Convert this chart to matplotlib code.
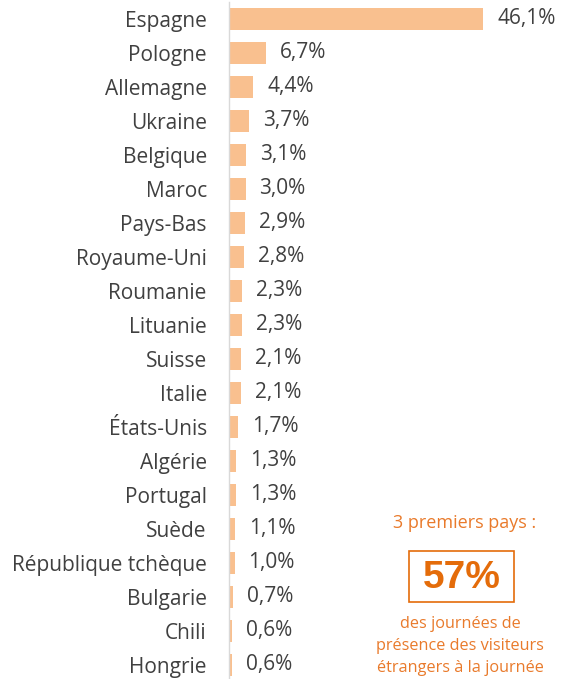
import matplotlib
matplotlib.use("Agg")
import matplotlib.pyplot as plt
from matplotlib.patches import Rectangle

countries = ["Espagne", "Pologne", "Allemagne", "Ukraine", "Belgique", "Maroc", "Pays-Bas",
             "Royaume-Uni", "Roumanie", "Lituanie", "Suisse", "Italie", "États-Unis", "Algérie",
             "Portugal", "Suède", "République tchèque", "Bulgarie", "Chili", "Hongrie"]
values = [46.1, 6.7, 4.4, 3.7, 3.1, 3.0, 2.9, 2.8, 2.3, 2.3, 2.1, 2.1, 1.7, 1.3, 1.3, 1.1, 1.0, 0.7, 0.6, 0.6]
value_labels = ["46,1%", "6,7%", "4,4%", "3,7%", "3,1%", "3,0%", "2,9%", "2,8%", "2,3%", "2,3%",
                "2,1%", "2,1%", "1,7%", "1,3%", "1,3%", "1,1%", "1,0%", "0,7%", "0,6%", "0,6%"]
top3_title = "3 premiers pays :"
top3_value = "57%"
top3_caption = "des journées de\nprésence des visiteurs\nétrangers à la journée"

plt.rcParams['font.family'] = ['Open Sans', 'DejaVu Sans']
W, H = 571, 679
fig = plt.figure(figsize=(W / 100, H / 100), dpi=100)
x0 = 229
ax = fig.add_axes([x0 / W, -3 / H, (W - x0) / W, 680 / H])
ypos = list(range(len(countries)))
ax.barh(ypos, values, height=0.65, color="#F9C08F", edgecolor="none")
ax.set_xlim(0, (W - x0) / 5.51)
ax.set_ylim(len(countries) - 0.5, -0.5)
for s in ["top", "right", "bottom"]:
    ax.spines[s].set_visible(False)
ax.spines["left"].set_color("#D9D9D9")
ax.spines["left"].set_linewidth(1.0)
ax.set_xticks([])
ax.set_yticks(ypos)
ax.set_yticklabels(countries, fontsize=15, color="#404040")
ax.tick_params(axis="y", length=0, pad=16)
for y, v, lab in zip(ypos, values, value_labels):
    ax.annotate(lab, (v, y), xytext=(14, 0), textcoords="offset pixels",
                ha="left", va="center", fontsize=15, color="#404040")

orange = "#E97A2B"
fig.text(465 / W, 1 - 523 / H, top3_title, ha="center", va="center", fontsize=13, color=orange)
fig.patches.append(Rectangle((409 / W, 1 - 602 / H), 105 / W, 51 / H, transform=fig.transFigure,
                             fill=False, edgecolor="#E46C0A", linewidth=1.2))
fig.text(462 / W, 1 - 578 / H, top3_value, ha="center", va="center", fontsize=28, fontweight="bold",
         color="#E46C0A", family=["Liberation Sans", "DejaVu Sans"])
fig.text(460 / W, 1 - 646 / H, top3_caption, ha="center", va="center", fontsize=11.7, color=orange,
         linespacing=1.5)
fig.savefig("out.png", dpi=100)
